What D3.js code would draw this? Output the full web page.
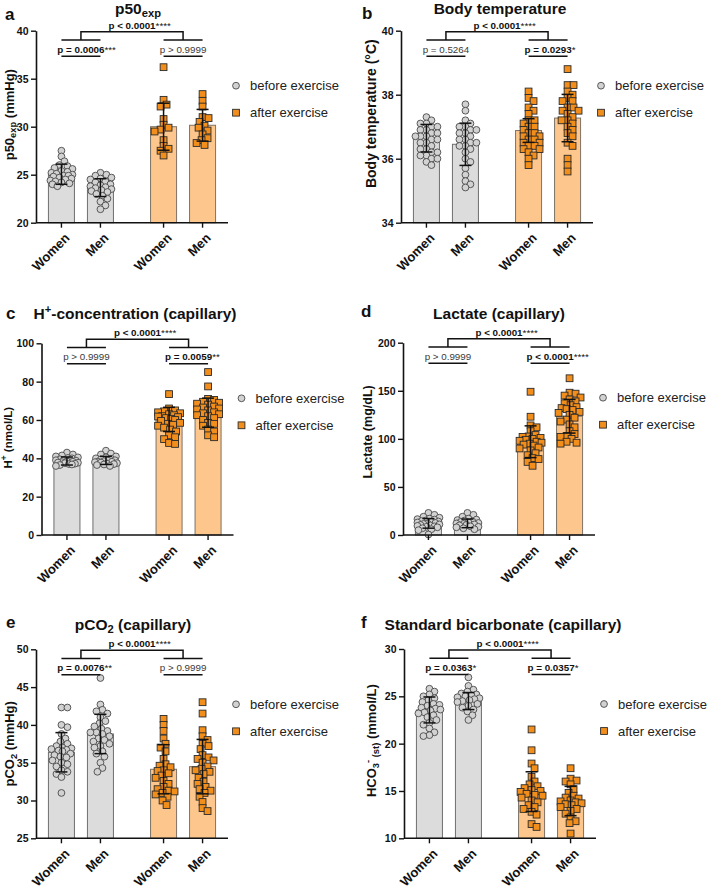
<!DOCTYPE html>
<html><head><meta charset="utf-8">
<script src="https://cdn.jsdelivr.net/npm/d3@7"></script>
<style>
html,body{margin:0;padding:0;background:#fff;}
svg{display:block;font-family:'Liberation Sans',Arial,Helvetica,sans-serif;}
</style></head><body>
<svg id="chart" width="708" height="888"></svg>
<script>
// ---------------- DATA ----------------
const categories = ["Women", "Men", "Women", "Men"];
const conditions = ["before exercise", "after exercise"];
const panelLetters = ["a", "b", "c", "d", "e", "f"];
const titles = [
  [["p50",""],["exp","sub"]],
  [["Body temperature",""]],
  [["H",""],["+","sup"],["-concentration (capillary)",""]],
  [["Lactate (capillary)",""]],
  [["pCO",""],["2","sub"],[" (capillary)",""]],
  [["Standard bicarbonate (capillary)",""]]
];
const yTitles = [
  [["p50",""],["exp","sub"],[" (mmHg)",""]],
  [["Body temperature (°C)",""]],
  [["H",""],["+","sup"],[" (nmol/L)",""]],
  [["Lactate (mg/dL)",""]],
  [["pCO",""],["2","sub"],[" (mmHg)",""]],
  [["HCO",""],["3","sub"],["-","sup"],[" (st)","sub"],[" (mmol/L)",""]]
];
const yDomains = [[20,40],[34,40],[0,100],[0,200],[25,50],[10,30]];
const yTicks = [[20,25,30,35,40],[34,36,38,40],[0,20,40,60,80,100],[0,50,100,150,200],[25,30,35,40,45,50],[10,15,20,25,30]];

// means and SD for Women-before, Men-before, Women-after, Men-after
const means = [
  [25.05,23.65,30.0,30.15],
  [36.64,36.45,36.88,37.27],
  [38.6,38.9,60.3,63.8],
  [12.1,12.1,97.0,123.5],
  [36.38,38.8,34.13,34.48],
  [23.56,24.5,14.93,13.94]
];
const sds = [
  [1.05,0.93,2.45,1.65],
  [0.43,0.66,0.37,0.74],
  [2.1,2.1,6.3,7.6],
  [5.0,4.5,16.5,17.5],
  [2.6,2.6,3.25,3.6],
  [1.37,0.9,2.1,1.55]
];

const topLabel = "p < 0.0001";
const topStars = "****";
const pairLabels = [
  ["p = 0.0006","p > 0.9999"],
  ["p = 0.5264","p = 0.0293"],
  ["p > 0.9999","p = 0.0059"],
  ["p > 0.9999","p < 0.0001"],
  ["p = 0.0076","p > 0.9999"],
  ["p = 0.0363","p = 0.0357"]
];
const pairStars = [
  ["***",""],
  ["","*"],
  ["","**"],
  ["","****"],
  ["**",""],
  ["*","*"]
];

const pointsA = [
  [27.5,26.9,26.4,26.0,25.9,25.7,25.6,25.4,25.3,25.2,25.1,25.0,24.9,24.9,24.8,24.7,24.6,24.5,24.4,24.3,24.2,24.1,24.0,23.8],
  [25.2,25.0,24.9,24.7,24.6,24.5,24.3,24.2,24.0,23.9,23.8,23.7,23.6,23.5,23.4,23.3,23.2,23.0,22.8,22.5,22.2,21.8,21.4],
  [36.2,32.8,32.3,32.1,30.8,30.2,29.9,29.7,29.5,28.6,28.0,27.7,27.5,27.0],
  [33.4,32.7,32.1,31.0,30.9,30.5,30.1,29.9,29.6,29.2,28.8,28.6,28.3,28.1]
];
const pointsB = [
  [37.3,37.2,37.1,37.1,37.0,37.0,36.9,36.9,36.8,36.8,36.7,36.7,36.7,36.6,36.6,36.5,36.5,36.4,36.3,36.3,36.2,36.2,36.1,36.1,36.0,36.0,35.9,35.8],
  [37.7,37.5,37.2,37.1,37.0,37.0,36.9,36.9,36.8,36.8,36.7,36.6,36.6,36.5,36.5,36.4,36.4,36.3,36.2,36.0,35.9,35.7,35.5,35.3,35.2,35.1],
  [38.1,37.9,37.8,37.6,37.5,37.4,37.2,37.2,37.1,37.0,37.0,36.9,36.8,36.8,36.7,36.7,36.6,36.6,36.5,36.5,36.4,36.4,36.3,36.3,36.2,36.1,36.0,35.8],
  [38.8,38.3,38.3,38.1,38.0,37.9,37.8,37.8,37.6,37.6,37.5,37.5,37.4,37.3,37.2,37.2,37.1,37.0,36.9,36.8,36.7,36.5,36.4,36.0,35.8,35.6]
];
const pointsC = [
  [43.0,42.0,41.5,41.0,40.5,40.2,40.0,39.5,39.2,39.0,38.8,38.5,38.4,38.2,38.0,37.8,37.7,37.5,37.2,37.0,36.8,36.5,36.0],
  [44.0,42.5,42.0,41.0,40.5,40.0,39.8,39.5,39.0,38.8,38.5,38.3,38.2,38.0,37.8,37.5,37.2,37.0,36.8,36.5,36.0],
  [73.5,66.0,65.0,64.5,64.0,63.5,63.0,62.5,62.0,61.8,61.5,61.0,60.5,60.0,59.5,58.5,58.0,57.5,57.0,56.0,55.0,54.0,52.0,51.0,50.0,48.0,47.5],
  [85.0,77.5,71.0,70.5,69.5,69.0,68.5,68.0,67.0,66.5,66.0,65.5,65.0,64.0,63.5,63.0,62.5,62.0,61.0,60.0,58.5,58.0,57.0,55.0,54.0,52.0,51.0]
];
const pointsD = [
  [23,21,19,18,17,16.5,16,15,14.5,14,13.5,13,12.5,12,11.5,11,10.5,10,9.5,9,8.5,8,7,6,5,0.5],
  [23,21,19,17,16,15.5,15,14,13.5,13,12.5,12,11.5,11,10.5,10,9,8.5,8,7,6],
  [149,123,114,112,108,104,102.5,102,101,100,99,98,97,96,95,94,93,91,90,88,85,83,80,79,76,72],
  [163,148,147,145,143,141,139,137,135,133,132,131,130,128,127,125,122,120,118,115,112,108,105,103,102,100,97,96,95]
];
const pointsE = [
  [42.3,42.3,40.0,39.7,38.8,38.2,37.8,37.5,37.2,37.0,36.9,36.8,36.7,36.6,36.5,36.2,36.0,35.8,35.7,35.3,35.0,34.8,34.5,34.0,33.8,33.5,33.1,31.0],
  [46.2,42.7,42.0,41.8,41.5,41.0,40.5,40.2,39.8,39.5,39.2,39.0,39.0,38.8,38.5,38.2,38.0,37.8,37.5,37.2,37.0,36.5,36.2,35.8,35.0,34.3,33.8],
  [40.8,40.0,39.2,38.2,37.5,37.0,36.5,35.5,34.8,34.6,34.4,34.0,33.9,33.6,33.3,33.0,32.6,32.2,31.8,31.5,31.3,31.2,31.0,30.8,30.5,30.0,29.4],
  [43.0,41.5,39.3,38.5,38.0,37.5,37.2,36.8,36.0,35.7,35.5,35.3,35.0,34.5,34.2,34.0,33.8,33.5,33.0,32.5,32.2,31.8,31.5,31.3,31.0,30.5,29.8,29.0,28.6]
];
const pointsF = [
  [25.8,25.5,25.2,25.0,24.8,24.6,24.4,24.2,24.1,24.0,23.8,23.7,23.6,23.5,23.3,23.2,23.0,22.8,22.5,22.2,22.0,21.6,21.2,20.9,20.8],
  [27.0,26.1,25.7,25.5,25.3,25.2,25.1,25.0,24.9,24.8,24.7,24.6,24.5,24.4,24.2,24.0,23.8,23.6,23.4,23.0,22.5],
  [21.5,19.3,17.9,17.4,16.5,16.0,15.7,15.5,15.3,15.1,15.0,14.9,14.7,14.6,14.5,14.3,14.0,13.8,13.5,13.3,13.1,12.8,12.5,11.5,11.2],
  [17.4,16.3,16.1,16.0,15.7,15.2,14.8,14.5,14.3,14.2,14.0,13.9,13.8,13.7,13.6,13.5,13.3,13.1,12.9,12.6,12.2,11.8,11.6,10.5]
];
const allPoints = [pointsA, pointsB, pointsC, pointsD, pointsE, pointsF];

// ---------------- LAYOUT / STYLE ----------------
const layout = [
  {ax:36,  top:30.7,  bot:222.7, shift:0,  titleY:13.5,  titleDx:6,    letterX:5,   letterY:20,    yTitleX:13.5,  yTitleDy:-12, yTitleSize:13},
  {ax:401, top:30.7,  bot:222.7, shift:0,  titleY:13.5,  titleDx:3,    letterX:362, letterY:19,    yTitleX:375.5, yTitleDy:-13, yTitleSize:14},
  {ax:41.5,top:343.3, bot:535,   shift:-5, titleY:319.3, titleDx:-2.5, letterX:6,   letterY:318.5, yTitleX:11.5,  yTitleDy:-1.5,yTitleSize:11.5},
  {ax:403, top:342.7, bot:535,   shift:-5, titleY:318.7, titleDx:0,    letterX:361, letterY:317,   yTitleX:372,   yTitleDy:-7,  yTitleSize:12.5},
  {ax:36,  top:649.3, bot:838.3, shift:0,  titleY:630.2, titleDx:1,    letterX:6,   letterY:628,   yTitleX:14,    yTitleDy:0,   yTitleSize:13},
  {ax:404, top:649,   bot:838.3, shift:0,  titleY:629.8, titleDx:3,    letterX:361, letterY:628,   yTitleX:376,   yTitleDy:-3,  yTitleSize:13}
];
const plotW = 192;
const barFill = ["#dcdcdc", "#fdc68c"];
const barStroke = ["#6f6f6f", "#7d7366"];
const ptFill = ["#d2d2d2", "#f28e1c"];
const ptStroke = ["#4a4a4a", "#2a2a2a"];
const FONT = "'Liberation Sans', Arial, Helvetica, sans-serif";

const svg = d3.select("#chart");

const groupScale = d3.scaleBand().domain([0,1]).range([0, plotW]).paddingInner(0.3).paddingOuter(0.09);
const sexScale = d3.scaleBand().domain([0,1]).range([0, groupScale.bandwidth()]).paddingInner(0.333).paddingOuter(0.083);

function richText(sel, parts, size) {
  let shift = 0;
  parts.forEach(([t, k]) => {
    let target = 0, fs = size;
    if (k === "sub") { target = size * 0.2; fs = size * 0.72; }
    else if (k === "sup") { target = -size * 0.4; fs = size * 0.72; }
    sel.append("tspan").text(t).attr("font-size", fs).attr("dy", target - shift);
    shift = target;
  });
}

function swarm(vals, yScale, sep, maxOff) {
  const order = vals.map((v, i) => i).sort((i, j) => vals[j] - vals[i]);
  const placed = [];
  const out = new Array(vals.length);
  for (const i of order) {
    const py = yScale(vals[i]);
    let best = 0, bestScore = Infinity;
    for (let k = 0; k <= 2 * maxOff; k++) {
      const off = (k % 2 === 1 ? 1 : -1) * Math.ceil(k / 2);
      let overlap = 0;
      for (const p of placed) {
        const d = Math.hypot(p.x - off, p.y - py);
        if (d < sep) overlap = Math.max(overlap, sep - d);
      }
      if (overlap === 0) { best = off; bestScore = 0; break; }
      if (overlap < bestScore - 1e-9) { bestScore = overlap; best = off; }
    }
    placed.push({x: best, y: py});
    out[i] = {v: vals[i], dx: best, y: py};
  }
  return out;
}

function pText(g, cx, yb, label, stars, bold, size) {
  const t = g.append("text").attr("y", yb).attr("font-size", size)
    .attr("font-weight", bold ? "bold" : "normal")
    .attr("fill", bold ? "#111" : "#3a3a3a");
  const main = t.append("tspan").text(label);
  const w = main.node().getComputedTextLength();
  t.attr("x", cx - w / 2);
  if (stars) t.append("tspan").text(stars).attr("font-weight", "normal");
}

panelLetters.forEach((letter, p) => {
  const L = layout[p];
  const g = svg.append("g");
  const y = d3.scaleLinear().domain(yDomains[p]).range([L.bot, L.top]);
  const bw = sexScale.bandwidth();
  const xl = i => L.ax + groupScale(Math.floor(i / 2)) + sexScale(i % 2);
  const xc = i => xl(i) + bw / 2;

  // bars
  g.selectAll("rect.bar").data(means[p]).join("rect")
    .attr("x", (d, i) => xl(i)).attr("y", d => y(d))
    .attr("width", bw).attr("height", d => L.bot - y(d))
    .attr("fill", (d, i) => barFill[Math.floor(i / 2)])
    .attr("stroke", (d, i) => barStroke[Math.floor(i / 2)]).attr("stroke-width", 1);

  // points
  allPoints[p].forEach((vals, i) => {
    const cond = Math.floor(i / 2);
    const sw = swarm(vals, y, 5.6, 11);
    if (cond === 0) {
      g.append("g").selectAll("circle").data(sw).join("circle")
        .attr("cx", d => xc(i) + d.dx).attr("cy", d => d.y).attr("r", 3.4)
        .attr("fill", ptFill[0]).attr("stroke", ptStroke[0]).attr("stroke-width", 0.9);
    } else {
      g.append("g").selectAll("rect").data(sw).join("rect")
        .attr("x", d => xc(i) + d.dx - 3.4).attr("y", d => d.y - 3.4)
        .attr("width", 6.8).attr("height", 6.8)
        .attr("fill", ptFill[1]).attr("stroke", ptStroke[1]).attr("stroke-width", 0.9);
    }
  });

  // error bars
  const eb = g.append("g").attr("stroke", "#111").attr("stroke-width", 1.5).attr("fill", "none");
  means[p].forEach((m, i) => {
    const hi = y(m + sds[p][i]), lo = y(m - sds[p][i]), x = xc(i);
    eb.append("line").attr("x1", x).attr("x2", x).attr("y1", hi).attr("y2", lo);
    eb.append("line").attr("x1", x - 6).attr("x2", x + 6).attr("y1", hi).attr("y2", hi);
    eb.append("line").attr("x1", x - 6).attr("x2", x + 6).attr("y1", lo).attr("y2", lo);
  });

  // y axis
  const ya = g.append("g").attr("transform", `translate(${L.ax},0)`)
    .call(d3.axisLeft(y).tickValues(yTicks[p]).tickFormat(d3.format("d"))
      .tickSize(5).tickPadding(2.5).tickSizeOuter(0));
  ya.select(".domain").attr("stroke", "#111").attr("stroke-width", 1.6);
  ya.selectAll(".tick line").attr("stroke", "#111").attr("stroke-width", 1.4);
  ya.selectAll(".tick text").attr("font-family", FONT).attr("font-size", 10.5)
    .attr("font-weight", "bold").attr("fill", "#111");
  ya.attr("font-family", FONT);

  // x axis
  const xa = g.append("g").attr("stroke", "#111");
  xa.append("line").attr("x1", L.ax).attr("x2", L.ax + plotW).attr("y1", L.bot).attr("y2", L.bot).attr("stroke-width", 1.6);
  xa.selectAll("line.tk").data(categories).join("line").attr("class", "tk")
    .attr("x1", (d, i) => xc(i)).attr("x2", (d, i) => xc(i))
    .attr("y1", L.bot).attr("y2", L.bot + 5).attr("stroke-width", 1.4);
  g.selectAll("text.xl").data(categories).join("text").attr("class", "xl")
    .attr("transform", (d, i) => `translate(${xc(i) + 9},${L.bot + 16}) rotate(-45)`)
    .attr("text-anchor", "end").attr("font-size", 13).attr("font-weight", "bold").attr("fill", "#111")
    .text(d => d);

  // title
  const tt = g.append("text").attr("x", L.ax + plotW / 2 + L.titleDx).attr("y", L.titleY)
    .attr("text-anchor", "middle").attr("font-weight", "bold").attr("fill", "#111");
  richText(tt, titles[p], 15.5);
  g.append("text").attr("x", L.letterX).attr("y", L.letterY).attr("font-size", 17)
    .attr("font-weight", "bold").attr("fill", "#111").text(letter);

  // y title
  const yt = g.append("text")
    .attr("transform", `translate(${L.yTitleX},${(L.top + L.bot) / 2 + L.yTitleDy}) rotate(-90)`)
    .attr("text-anchor", "middle").attr("font-weight", "bold").attr("fill", "#111");
  richText(yt, yTitles[p], L.yTitleSize);

  // significance brackets
  const ys = L.top + L.shift;
  const topY = ys + 1, grpY = ys + 9.3, pairY = ys + 25.5;
  const br = g.append("g").attr("stroke", "#111").attr("stroke-width", 1.5).attr("fill", "none");
  const g0 = (xc(0) + xc(1)) / 2, g1 = (xc(2) + xc(3)) / 2;
  br.append("path").attr("d", `M${g0},${grpY}V${topY}H${g1}V${grpY}`);
  [0, 2].forEach(i => {
    br.append("line").attr("x1", xc(i)).attr("x2", xc(i + 1)).attr("y1", grpY).attr("y2", grpY);
    br.append("line").attr("x1", xc(i)).attr("x2", xc(i + 1)).attr("y1", pairY).attr("y2", pairY);
  });
  pText(g, (g0 + g1) / 2, topY - 3, topLabel, topStars, true, 9.8);
  [0, 1].forEach(k => {
    const cx = (xc(2 * k) + xc(2 * k + 1)) / 2;
    const st = pairStars[p][k];
    pText(g, cx, pairY - 3.5, pairLabels[p][k], st, st.length > 0, 9.8);
  });

  // legend
  const lx = L.ax + 200, ly = [L.top + 55, L.top + 82];
  g.append("circle").attr("cx", lx).attr("cy", ly[0]).attr("r", 3.4)
    .attr("fill", ptFill[0]).attr("stroke", ptStroke[0]).attr("stroke-width", 0.9);
  g.append("rect").attr("x", lx - 3.4).attr("y", ly[1] - 3.4).attr("width", 6.8).attr("height", 6.8)
    .attr("fill", ptFill[1]).attr("stroke", ptStroke[1]).attr("stroke-width", 0.9);
  conditions.forEach((c, k) => {
    g.append("text").attr("x", lx + 14).attr("y", ly[k] + 4.5).attr("font-size", 13)
      .attr("fill", "#222").text(c);
  });
});
</script>
</body></html>
